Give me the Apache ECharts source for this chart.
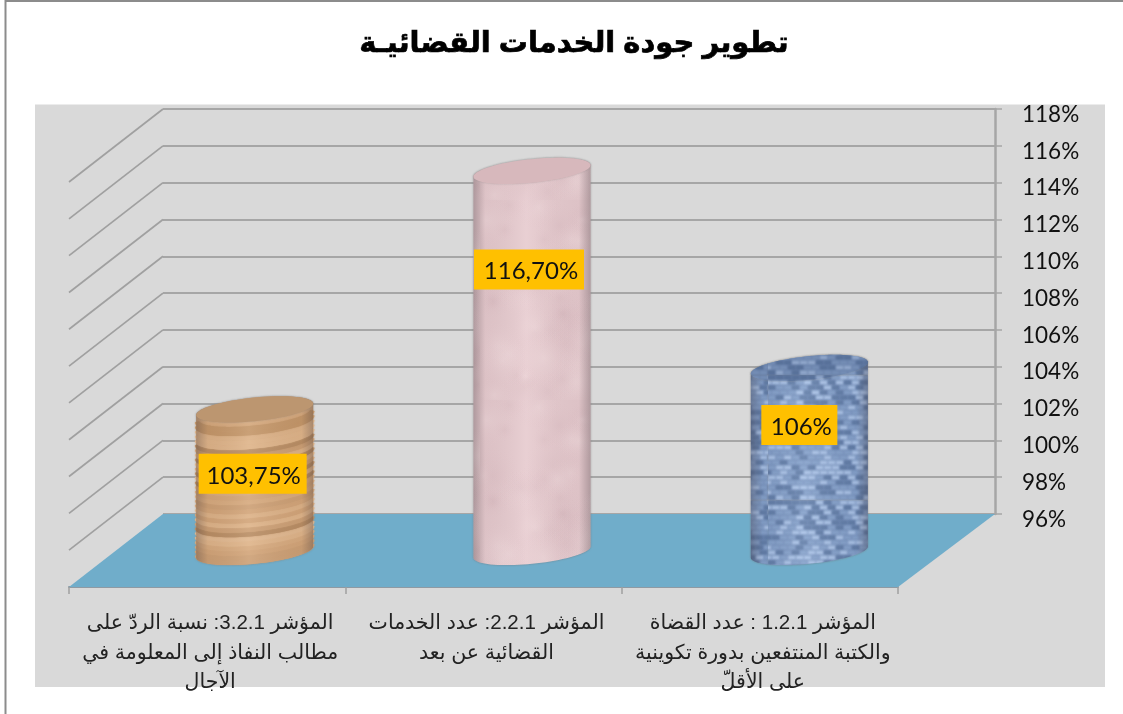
<!DOCTYPE html>
<html>
<head>
<meta charset="utf-8">
<style>html,body{margin:0;padding:0;background:#fff}#c{width:1123px;height:714px}</style>
<script src="https://cdn.jsdelivr.net/npm/echarts@6/dist/echarts.min.js"></script>
</head>
<body>
<div id="c"></div>
<script>
const titleText = 'تطوير جودة الخدمات القضائيـة';
const categories = [
  'المؤشر 3.2.1: نسبة الردّ على\nمطالب النفاذ إلى المعلومة في\nالآجال',
  'المؤشر 2.2.1: عدد الخدمات\nالقضائية عن بعد',
  'المؤشر 1.2.1 : عدد القضاة\nوالكتبة المنتفعين بدورة تكوينية\nعلى الأقلّ'
];
const values = [103.75, 116.7, 106];
const valueLabels = ['103,75%', '116,70%', '106%'];
const tickValues = [96, 98, 100, 102, 104, 106, 108, 110, 112, 114, 116, 118];

const ARABIC = "'Liberation Sans','DejaVu Sans',sans-serif";
const LATIN = "Lato,'Open Sans',sans-serif";
const DEPTH = [-94, 73];
const GRID_GREY = '#a6a6a6';

function h(i, j) { const s = Math.sin(i * 12.9898 + j * 78.233) * 43758.5453; return s - Math.floor(s); }

function weaveTexture() {
  const c = document.createElement('canvas'); c.width = 128; c.height = 125;
  const g = c.getContext('2d');
  g.filter = 'blur(1px)';
  g.fillStyle = '#7490bb'; g.fillRect(0, 0, 128, 125);
  for (let r = 0; r < 25; r++) {
    for (let k = -1; k < 18; k++) {
      const t = h(r, k);
      g.fillStyle = t > .68 ? '#a8c1e6' : t > .3 ? '#84a0ca' : '#5f7ba6';
      g.fillRect(k * 8 + (r % 2) * 4, r * 5 + 0.5, 7.6, 4.2);
    }
  }
  return c;
}
function marbleTexture() {
  const c = document.createElement('canvas'); c.width = 160; c.height = 200;
  const g = c.getContext('2d');
  g.fillStyle = '#e6cace'; g.fillRect(0, 0, 160, 200);
  for (let n = 0; n < 70; n++) {
    const x = h(n, 1) * 160, y = h(n, 2) * 200, r = 10 + h(n, 3) * 24;
    const light = h(n, 4) > .5;
    const rg = g.createRadialGradient(x, y, 0, x, y, r);
    rg.addColorStop(0, light ? 'rgba(244,222,224,.4)' : 'rgba(214,182,188,.3)');
    rg.addColorStop(1, 'rgba(230,200,205,0)');
    g.fillStyle = rg; g.fillRect(x - r, y - r, 2 * r, 2 * r);
  }
  return c;
}
const weave = weaveTexture(), marble = marbleTexture();

function ellipsePts(cx, cy, rx, ry, k, from, to, n) {
  const pts = [];
  for (let i = 0; i <= n; i++) {
    const t = from + (to - from) * i / n;
    const dx = rx * Math.cos(t);
    pts.push([cx + dx, cy + ry * Math.sin(t) - k * dx]);
  }
  return pts;
}

const woodTones = ['#cc9f74', '#dcb186', '#c49668', '#e0b78e', '#d6a97d', '#b98d63', '#deb388', '#d2a478'];

function renderBar(params, api) {
  const i = api.value(0), v = api.value(1);
  const top = api.coord([i, v]), base = api.coord([i, 96]);
  const rx = api.size([1, 0])[0] * 0.211, ry = 11.8, k = 0.098;
  const cx = top[0];
  const bodyPts = [...ellipsePts(cx, base[1], rx, ry, k, Math.PI, 0, 40), ...ellipsePts(cx, top[1], rx, ry, k, 0, -Math.PI, 40)];
  const cap = ellipsePts(cx, top[1], rx, ry, k, 0, 2 * Math.PI, 72);
  const shade = new echarts.graphic.LinearGradient(0, 0, 1, 0, [
    { offset: 0, color: 'rgba(60,50,55,.32)' }, { offset: .1, color: 'rgba(60,50,55,.06)' },
    { offset: .45, color: 'rgba(255,255,255,.1)' }, { offset: .9, color: 'rgba(60,50,55,.05)' },
    { offset: 1, color: 'rgba(60,50,55,.32)' }]);
  const kids = [];
  const soft = { shadowBlur: 2, shadowColor: 'rgba(110,110,110,.6)' };
  if (i === 0) {
    kids.push({ type: 'polygon', shape: { points: bodyPts }, style: { fill: '#d5a87c', ...soft } });
    let n = 0;
    for (let y = base[1] - 2.5; y > top[1] + 3; y -= 4.6, n++) {
      const tone = woodTones[Math.floor(h(n, 7) * woodTones.length)];
      kids.push({ type: 'polyline', shape: { points: ellipsePts(cx, y, rx - 1, ry, k, Math.PI, 0, 36) },
        style: { stroke: tone, lineWidth: 4.6, fill: null, lineCap: 'butt', shadowBlur: 1.5, shadowColor: tone } });
    }
  } else {
    kids.push({ type: 'polygon', shape: { points: bodyPts }, style: { fill: { image: i === 1 ? marble : weave, repeat: 'repeat' }, ...soft } });
  }
  kids.push({ type: 'polygon', shape: { points: bodyPts }, style: { fill: shade } });
  const capFill = i === 0 ? '#bf9872' : i === 1 ? '#dbbcc1' : { image: weave, repeat: 'repeat' };
  kids.push({ type: 'polygon', shape: { points: cap }, style: { fill: capFill, shadowBlur: 2, shadowColor: 'rgba(120,120,120,.4)' } });
  kids.push({ type: 'polygon', shape: { points: cap }, style: { fill: i === 2 ? 'rgba(60,75,105,.22)' : 'rgba(120,90,80,.04)' } });
  return { type: 'group', children: kids };
}

// Data-label boxes sit where the author dragged them: offsets from the bar's top centre
const labelBoxes = [[-2, 64.5, 108], [-3, 98.5, 110], [-10, 57, 76]];
function renderLabel(params, api) {
  const i = api.value(0), v = api.value(1);
  const p = api.coord([i, v]);
  const b = labelBoxes[i];
  const x = p[0] + b[0], y = p[1] + b[1];
  return { type: 'group', children: [
    { type: 'rect', shape: { x: x - b[2] / 2, y: y - 20, width: b[2], height: 40 }, style: { fill: '#ffc000' } },
    { type: 'text', style: { x: x + (i === 0 ? 1 : 2), y: y + 2, text: valueLabels[i], align: 'center', verticalAlign: 'middle', font: '24px ' + LATIN, fill: '#111' } }
  ] };
}
function renderSlant(params, api) {
  const p = api.coord([0, api.value(0)]);
  const x = params.coordSys.x;
  return { type: 'line', shape: { x1: x, y1: p[1], x2: x + DEPTH[0], y2: p[1] + DEPTH[1] }, style: { stroke: '#a0a0a0', lineWidth: 1.7 } };
}
function renderFloor(params, api) {
  const y = api.coord([0, api.value(0)])[1];
  const c = params.coordSys;
  return { type: 'polygon', shape: { points: [[c.x, y], [c.x + c.width, y], [c.x + c.width - 97, y + DEPTH[1]], [c.x + DEPTH[0], y + DEPTH[1]]] }, style: { fill: '#70adca' } };
}

const chart = echarts.init(document.getElementById('c'), null, { width: 1123, height: 714 });
const hiddenCat = (gridIndex) => ({ type: 'category', gridIndex, data: categories, show: false });
const hiddenVal = (gridIndex) => ({ type: 'value', gridIndex, min: 96, max: 118, interval: 2, show: false });
chart.setOption({
  animation: false,
  backgroundColor: '#fff',
  title: { text: titleText, left: 569, top: 24, textAlign: 'center',
    textStyle: { fontFamily: ARABIC, fontWeight: 'bold', fontSize: 29, color: '#000', textBorderColor: '#000', textBorderWidth: 0.7 } },
  graphic: { elements: [
    { type: 'rect', z: -10, shape: { x: 35, y: 104.5, width: 1070, height: 582.5 }, style: { fill: '#d9d9d9' } },
    { type: 'line', z: -10, shape: { x1: 5.5, y1: 0, x2: 5.5, y2: 714 }, style: { stroke: '#8c8c8c', lineWidth: 2 } },
    { type: 'line', z: -10, shape: { x1: 5, y1: 1, x2: 1123, y2: 1 }, style: { stroke: '#8c8c8c', lineWidth: 2 } }
  ] },
  grid: [
    { left: 163, width: 832, top: 109, height: 405 },
    { left: 69, width: 829, top: 182, height: 405 },
    { left: 116, width: 832, top: 147, height: 405 }
  ],
  xAxis: [
    hiddenCat(0),
    { type: 'category', gridIndex: 1, data: categories, position: 'bottom',
      axisLine: { lineStyle: { color: '#8f9aa3', width: 2 } },
      axisTick: { show: true, alignWithLabel: false, length: 7, lineStyle: { color: '#a0a0a0', width: 1.5 } },
      axisLabel: { interval: 0, margin: 22, fontFamily: ARABIC, fontSize: 20.5, lineHeight: 29.5, color: '#222', align: 'center', padding: [0, 0, 0, 6] } },
    hiddenCat(2)
  ],
  yAxis: [
    { type: 'value', gridIndex: 0, position: 'right', min: tickValues[0], max: tickValues[tickValues.length - 1], interval: 2,
      axisLine: { show: true, lineStyle: { color: GRID_GREY, width: 2.5 } },
      axisTick: { show: true, length: 7, lineStyle: { color: GRID_GREY, width: 1.5 } },
      splitLine: { show: true, lineStyle: { color: GRID_GREY, width: 2 } },
      axisLabel: { margin: 27, formatter: '{value}%', fontFamily: LATIN, fontSize: 22.5, color: '#111', verticalAlign: 'top', lineHeight: 11 } },
    hiddenVal(1),
    hiddenVal(2)
  ],
  series: [
    { type: 'custom', name: 'depth lines', xAxisIndex: 0, yAxisIndex: 0, silent: true, z: 1, clip: false,
      data: tickValues.slice(1).map(v => [v]), encode: { y: 0 }, renderItem: renderSlant },
    { type: 'custom', name: 'floor', xAxisIndex: 0, yAxisIndex: 0, silent: true, z: 2, clip: false,
      data: [[tickValues[0]]], encode: { y: 0 }, renderItem: renderFloor },
    { type: 'custom', name: 'bars', xAxisIndex: 2, yAxisIndex: 2, silent: true, z: 3, clip: false,
      data: values.map((v, i) => [i, v]), encode: { x: 0, y: 1 }, renderItem: renderBar },
    { type: 'custom', name: 'labels', xAxisIndex: 2, yAxisIndex: 2, silent: true, z: 4, clip: false,
      data: values.map((v, i) => [i, v]), encode: { x: 0, y: 1 }, renderItem: renderLabel }
  ]
});
</script>
</body>
</html>
